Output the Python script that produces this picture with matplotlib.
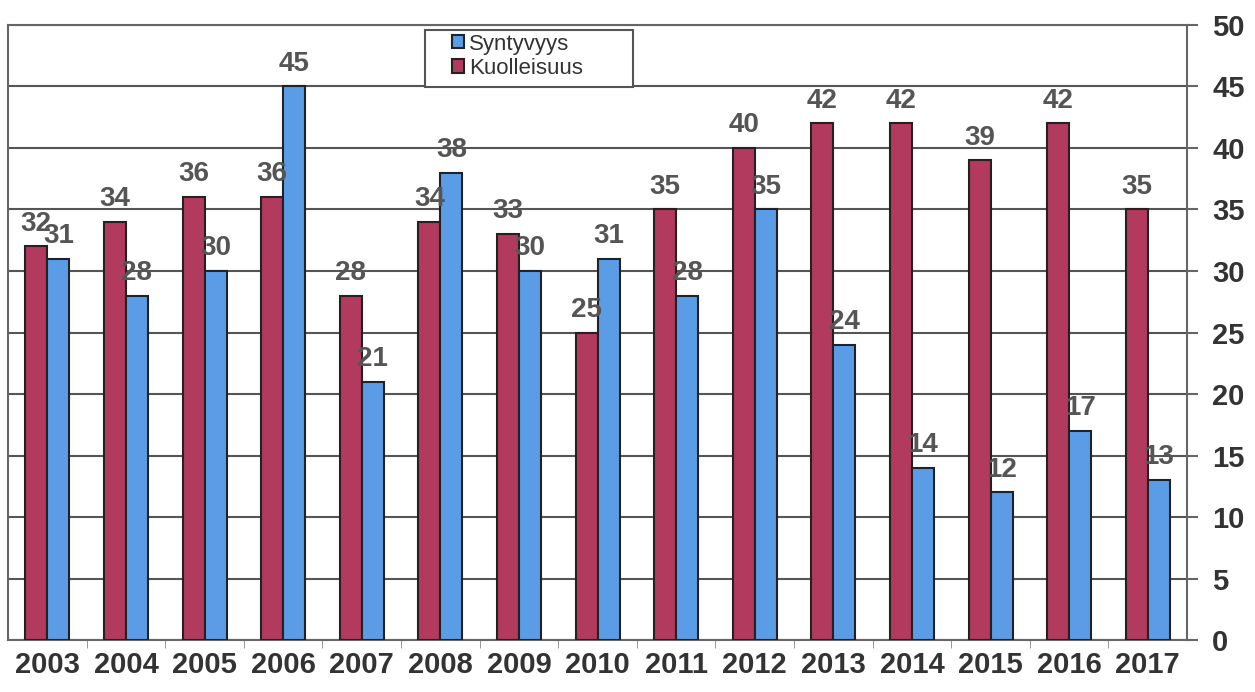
import numpy as np
import matplotlib.pyplot as plt
from matplotlib.patches import Rectangle

years = ['2003', '2004', '2005', '2006', '2007', '2008', '2009', '2010',
         '2011', '2012', '2013', '2014', '2015', '2016', '2017']
kuolleisuus = [32, 34, 36, 36, 28, 34, 33, 25, 35, 40, 42, 42, 39, 42, 35]
syntyvyys = [31, 28, 30, 45, 21, 38, 30, 31, 28, 35, 24, 14, 12, 17, 13]

plt.rcParams['font.family'] = ['Liberation Sans', 'DejaVu Sans']

fig = plt.figure(figsize=(12.55, 6.92), dpi=100)
ax = fig.add_axes([0.0064, 0.075, 0.9395, 0.889])

x = np.arange(len(years))
w = 0.28
red = '#b23a5e'
blue = '#5a9de6'

b1 = ax.bar(x - w / 2, kuolleisuus, w, color=red, edgecolor='#222222', linewidth=1.5,
            label='Kuolleisuus', zorder=3)
b2 = ax.bar(x + w / 2, syntyvyys, w, color=blue, edgecolor='#222222', linewidth=1.5,
            label='Syntyvyys', zorder=3)

for bars, vals in ((b1, kuolleisuus), (b2, syntyvyys)):
    for r, v in zip(bars, vals):
        ax.annotate(str(v), (r.get_x() + r.get_width() / 2, v), xytext=(0, 7),
                    textcoords='offset points', ha='center', va='bottom',
                    fontsize=20, fontweight='bold', color='#555555', zorder=4)

ax.set_xlim(-0.5, len(years) - 0.5)
ax.set_ylim(0, 50)
ax.set_yticks(np.arange(0, 51, 5))
ax.yaxis.tick_right()
ax.tick_params(axis='y', direction='out', length=8, width=1.5, color='#666666',
               labelsize=21, pad=10, labelcolor='#333333')
for lab in ax.get_yticklabels():
    lab.set_fontweight('bold')

ax.set_xticks(x)
ax.set_xticklabels(years, fontsize=21, fontweight='bold', color='#333333')
ax.set_xticks(x[:-1] + 0.5, minor=True)
ax.tick_params(axis='x', which='major', length=0, pad=8)
ax.tick_params(axis='x', which='minor', length=6, color='#888888', direction='out')

ax.grid(axis='y', color='#555555', linewidth=1.5, zorder=0)
for s in ax.spines.values():
    s.set_color('#666666')
    s.set_linewidth(1.5)

# legend box like the original (wider than its contents)
ax.add_patch(Rectangle((0.354, 0.899), 0.176, 0.093, transform=ax.transAxes,
                       facecolor='white', edgecolor='#555555', linewidth=1.5,
                       zorder=5, clip_on=False))
h, l = ax.get_legend_handles_labels()
leg = ax.legend(h[::-1], l[::-1], loc='upper left', bbox_to_anchor=(0.373, 0.993),
                fontsize=16, frameon=False, handlelength=0.55,
                handleheight=0.55, handletextpad=0.2, borderpad=0.2, labelspacing=0.15,
                borderaxespad=0)
leg.set_zorder(6)
for t in leg.get_texts():
    t.set_color('#333333')

fig.savefig('out.png', dpi=100)
